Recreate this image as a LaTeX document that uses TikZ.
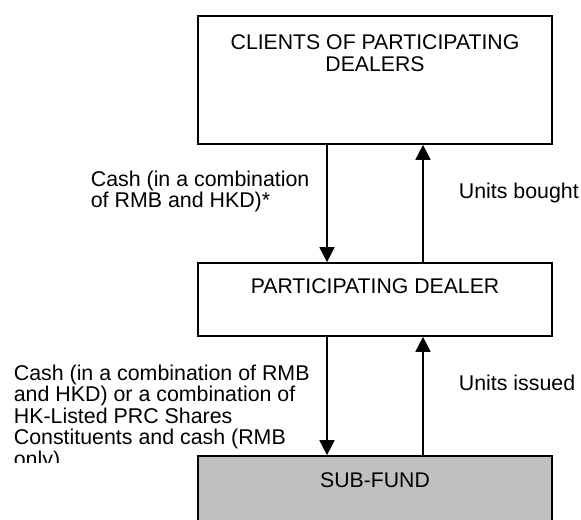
\documentclass[tikz,border=0pt]{standalone}
\usepackage{fontspec}
\setmainfont{Liberation Sans}
\usetikzlibrary{arrows.meta,positioning}
\definecolor{fundgray}{RGB}{192,192,192}

\begin{document}
\begin{tikzpicture}[block/.style={shape=rectangle,draw=black,line width=1.2pt,inner sep=0pt,
							minimum width=8.85cm},
						boxtext/.style={anchor=north,align=center,inner sep=0pt,
							font=\fontsize{15.1}{15.65}\selectfont},
						flowtext/.style={align=left,inner sep=0pt,
							font=\fontsize{15.2}{15.3}\selectfont},
						>={Triangle[width=3.75mm,length=3.75mm]},line width=1.2pt]
		\useasboundingbox (0,0) rectangle (14.525,13);
		\clip (0,0) rectangle (14.525,13);

		\node[block,minimum height=3.2cm] (clients) at (9.375,11)			{};
		\node[block,minimum height=1.825cm] (dealer) at (9.375,5.5125)		{};
		\node[block,minimum height=2.1cm,fill=fundgray] (fund) at (9.375,0.55)	{};

		\node[boxtext] (clientstext) at (9.375,12.15) {CLIENTS OF PARTICIPATING\\DEALERS};
		\node[boxtext] (dealertext) at (9.375,6.05) {PARTICIPATING DEALER};
		\node[boxtext] (fundtext) at (9.375,1.2) {SUB-FUND};

		\draw [->] ([xshift=-1.2cm]clients.south) to ([xshift=-1.2cm]dealer.north);
		\draw [->] ([xshift=1.2cm]dealer.north) to ([xshift=1.2cm]clients.south);
		\draw [->] ([xshift=-1.2cm]dealer.south) to ([xshift=-1.2cm]fund.north);
		\draw [->] ([xshift=1.2cm]fund.north) to ([xshift=1.2cm]dealer.south);

		\node[flowtext,anchor=north west] (cashtext) at (2.25,8.75) {Cash (in a combination\\of RMB and HKD)*};
		\node[flowtext,anchor=west] (boughttext) at (11.45,8.175) {Units bought};
		\node[flowtext,anchor=west] (issuedtext) at (11.45,3.425) {Units issued};

		% text box cuts off the last line
		\begin{scope}
			\clip (0,1.425) rectangle (8,4.2);
			\node[flowtext,anchor=north west] (sharestext) at (0.325,3.9)
				{Cash (in a combination of RMB\\and HKD) or a combination of\\HK-Listed PRC Shares\\Constituents and cash (RMB\\only)};
		\end{scope}

	\end{tikzpicture}
\end{document}
